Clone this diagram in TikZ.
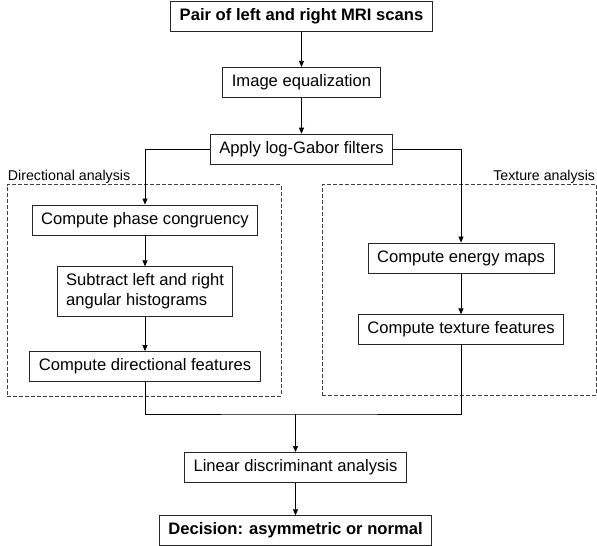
\documentclass[tikz,border=0pt]{standalone}
\usepackage{fontspec}
\setmainfont{Liberation Sans}
\usetikzlibrary{positioning,arrows.meta,fit,calc}

\begin{document}
\begin{tikzpicture}[font=\fontsize{16.6}{20}\selectfont,>={Triangle[length=6pt,width=5pt]},
  base/.style={rectangle,draw=black!85,line width=0.8pt,inner xsep=9pt},
  box/.style={base,inner ysep=0pt,minimum height=30pt,text height=12pt,text depth=3.5pt},
  tall/.style={base,align=left,minimum height=50pt,inner ysep=4pt},
  bold/.style={box,font=\fontsize{16.6}{20}\selectfont\bfseries},
  grp/.style={draw=black!75,line width=0.6pt,dash pattern=on 4pt off 2pt,inner sep=0pt},
  lbl/.style={font=\fontsize{14.2}{16}\selectfont,inner sep=1pt},
  ar/.style={->,line width=0.7pt}]
\useasboundingbox (0,0) rectangle (597pt,-546pt);
\node[bold] (pair) at (301.5pt,-16.5pt) {Pair of left and right MRI scans};
\node[box,below=35pt of pair] (eq) {Image equalization};
\node[box,below=36pt of eq] (gabor) {Apply log-Gabor filters};
\node[box,below=40pt of gabor,xshift=-156.5pt] (phase) {Compute phase congruency};
\node[tall,below=31pt of phase] (hist) {Subtract left and right\\angular histograms};
\node[box,below=34pt of hist] (dirf) {Compute directional features};
\node[box,below=78pt of gabor,xshift=159.5pt] (energy) {Compute energy maps};
\node[box,below=41pt of energy] (texf) {Compute texture features};
\node[box,below=287.5pt of gabor,xshift=-6pt] (lda) {Linear discriminant analysis};
\node[bold,below=32.5pt of lda] (dec) {Decision: asymmetric or normal};
% dashed groups
\coordinate (d1) at ($(dirf.south)+(-138pt,-14pt)$);
\coordinate (d2) at ($(phase.north)+(136pt,20pt)$);
\node[grp,fit=(d1)(d2)] (dirbox) {};
\coordinate (t1) at ($(texf.south)+(-139pt,-50pt)$);
\coordinate (t2) at ($(energy.north)+(135pt,58pt)$);
\node[grp,fit=(t1)(t2)] (texbox) {};
\node[lbl,above right=0pt of dirbox.north west] (dirlbl) {Directional analysis};
\node[lbl,above left=0pt of texbox.north east] (texlbl) {Texture analysis};
% connectors
\draw[ar] (pair) -- (eq);
\draw[ar] (eq) -- (gabor);
\draw[ar] (gabor.west) -| (phase.north);
\draw[ar] (gabor.east) -| (energy.north);
\draw[ar] (phase) -- (hist);
\draw[ar] (hist) -- (dirf);
\draw[ar] (energy) -- (texf);
\coordinate[above=38pt of lda.north] (join);
\draw[line width=0.7pt] (dirf.south) |- (join) -| (texf.south);
\draw[ar] (join) -- (lda);
\draw[ar] (lda) -- (dec);
\end{tikzpicture}
\end{document}
